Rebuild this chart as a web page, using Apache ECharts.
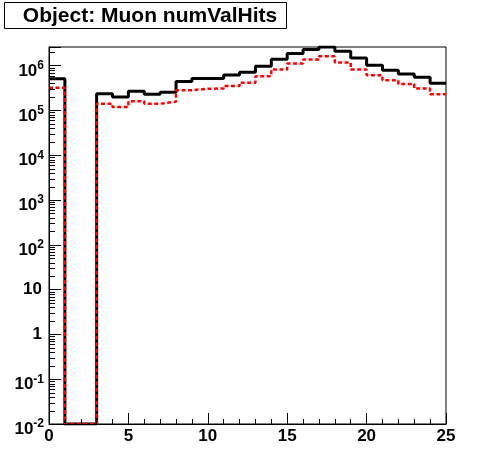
<!DOCTYPE html>
<html>
<head>
<meta charset="utf-8">
<script src="https://cdn.jsdelivr.net/npm/echarts@6/dist/echarts.min.js"></script>
<style>
html,body{margin:0;padding:0;background:#fff;}
#chart{width:496px;height:472px;}
</style>
</head>
<body>
<div id="chart"></div>
<script>
// ---- data ----
const titleText = 'Object: Muon numValHits';
const binEdges = [0,1,2,3,4,5,6,7,8,9,10,11,12,13,14,15,16,17,18,19,20,21,22,23,24,25];
const blackValues = [5.06e5, 0, 0, 2.35e5, 1.98e5, 2.68e5, 2.3e5, 2.55e5, 4.4e5, 5.14e5, 5.14e5, 6.2e5, 7.1e5, 9.7e5, 1.38e6, 1.87e6, 2.3e6, 2.6e6, 2.08e6, 1.47e6, 1.02e6, 7.9e5, 6.45e5, 5.5e5, 4.05e5];
const redValues   = [3.19e5, 0, 0, 1.41e5, 1.19e5, 1.61e5, 1.41e5, 1.56e5, 2.83e5, 3.03e5, 3.08e5, 3.5e5, 4.15e5, 5.8e5, 8.2e5, 1.11e6, 1.36e6, 1.61e6, 1.17e6, 8.2e5, 6.1e5, 4.7e5, 3.9e5, 3.08e5, 2.3e5];
const xTickLabels = ['0','5','10','15','20','25'];
const yDecades = [-2,-1,0,1,2,3,4,5,6];
const yMin = 0.01, yMax = 2.6e6;
const xMin = 0, xMax = 25;

// ---- build ----
function histPoints(vals) {
  const pts = [];
  for (let i = 0; i < vals.length; i++) pts.push([binEdges[i], Math.max(vals[i], yMin)]);
  pts.push([binEdges[vals.length], Math.max(vals[vals.length - 1], yMin)]);
  return pts;
}
const minorY = [];
for (let d = -2; d <= 6; d++) {
  for (let m = 2; m <= 9; m++) {
    const v = m * Math.pow(10, d);
    if (v < yMax) minorY.push(v);
  }
}
const FONT = '"Liberation Sans", Arial, Helvetica, sans-serif';

const chart = echarts.init(document.getElementById('chart'));
chart.setOption({
  animation: false,
  backgroundColor: '#fff',
  grid: {left: 49, right: 50, top: 47, bottom: 48, show: true, borderColor: '#000', borderWidth: 1, outerBoundsMode: 'none'},
  graphic: [{
    type: 'group', id: 'titleBox',
    children: [
      {type: 'rect', shape: {x: 4.5, y: 2.5, width: 282, height: 26}, style: {fill: '#fff', stroke: '#000', lineWidth: 1}},
      {type: 'text', x: 150, y: 16, style: {text: titleText, font: 'bold 21px ' + FONT, fill: '#000', align: 'center', verticalAlign: 'middle'}}
    ]
  }],
  xAxis: {
    type: 'value', min: xMin, max: xMax, interval: 5, z: 10,
    axisLine: {show: true, lineStyle: {color: '#000', width: 1}},
    axisTick: {show: true, inside: true, length: 11, lineStyle: {color: '#000', width: 1}},
    minorTick: {show: true, splitNumber: 5, length: 5, lineStyle: {color: '#000', width: 1}},
    splitLine: {show: false},
    axisLabel: {
      margin: 4, color: '#000', fontFamily: FONT, fontWeight: 'bold', fontSize: 17,
      formatter: function (v) { const i = Math.round(v / 5); return xTickLabels[i] != null ? xTickLabels[i] : ''; }
    }
  },
  yAxis: {
    type: 'log', logBase: 10, min: yMin, max: yMax, z: 10,
    axisLine: {show: true, lineStyle: {color: '#000', width: 1}},
    axisTick: {show: true, inside: true, length: 12, lineStyle: {color: '#000', width: 1}},
    minorTick: {show: false},
    splitLine: {show: false},
    axisLabel: {
      margin: 5, color: '#000', fontFamily: FONT, fontWeight: 'bold', fontSize: 17,
      formatter: function (v) {
        const l = Math.log10(v);
        const e = Math.round(l);
        if (Math.abs(l - e) > 1e-6 || yDecades.indexOf(e) < 0) return '';
        if (e === 0) return '{p|1}';
        if (e === 1) return '{p|10}';
        return '{b|10}{s|' + e + '}';
      },
      rich: {
        p: {fontFamily: FONT, fontWeight: 'bold', fontSize: 17, padding: [0, 2, 0, 0]},
        b: {fontFamily: FONT, fontWeight: 'bold', fontSize: 17, lineHeight: 28, verticalAlign: 'bottom'},
        s: {fontFamily: FONT, fontWeight: 'bold', fontSize: 12, verticalAlign: 'middle'}
      }
    }
  },
  series: [
    {
      type: 'line', step: 'end', showSymbol: false, symbol: 'none',
      data: histPoints(blackValues),
      lineStyle: {color: '#000', width: 3}, z: 3
    },
    {
      type: 'line', step: 'end', showSymbol: false, symbol: 'none',
      data: histPoints(redValues),
      lineStyle: {color: '#ff0000', width: 2.5, type: [4, 2.5]}, z: 4
    },
    {
      type: 'custom', z: 5, silent: true, clip: false,
      data: minorY.map(v => [xMin, v]),
      renderItem: function (params, api) {
        const p = api.coord([api.value(0), api.value(1)]);
        const y = Math.round(p[1]) + 0.5;
        return {type: 'line', shape: {x1: p[0], y1: y, x2: p[0] + 6, y2: y}, style: {stroke: '#000', lineWidth: 1}};
      }
    }
  ]
});
</script>
</body>
</html>
